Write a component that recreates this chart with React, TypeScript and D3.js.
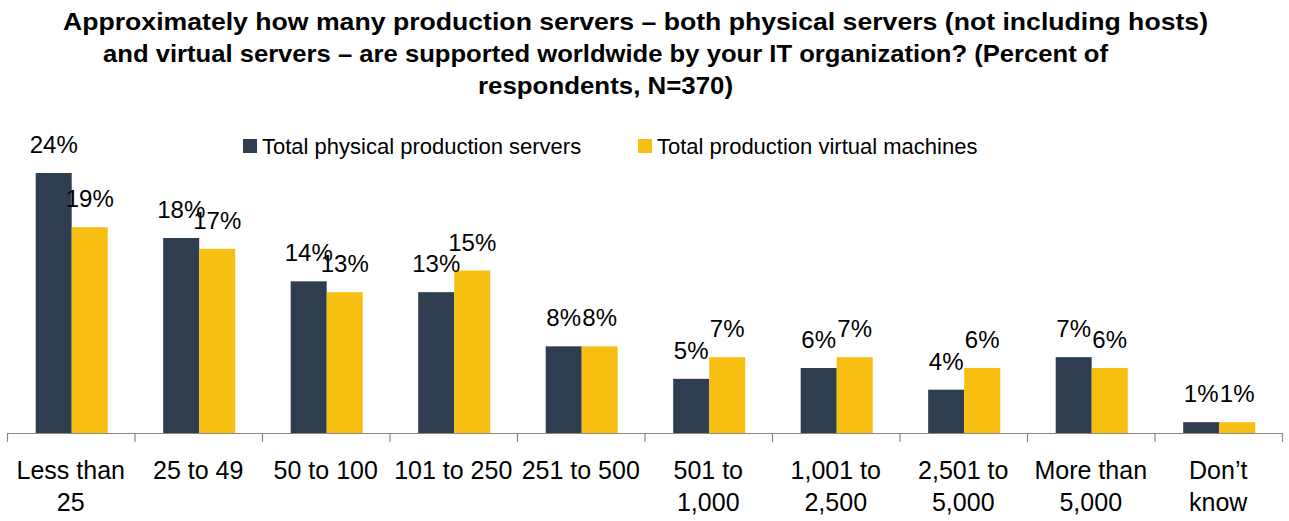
import React from "react";
import * as d3 from "d3";

const categories: string[][] = [
  ["Less than", "25"],
  ["25 to 49"],
  ["50 to 100"],
  ["101 to 250"],
  ["251 to 500"],
  ["501 to", "1,000"],
  ["1,001 to", "2,500"],
  ["2,501 to", "5,000"],
  ["More than", "5,000"],
  ["Don\u2019t", "know"],
];
const physical = [24, 18, 14, 13, 8, 5, 6, 4, 7, 1];
const virtualVMs = [19, 17, 13, 15, 8, 7, 7, 6, 6, 1];
const seriesNames = ["Total physical production servers", "Total production virtual machines"];
const colors = ["#2E3E50", "#F8BF13"];
const titleLines = [
  "Approximately how many production servers \u2013 both physical servers (not including hosts)",
  "and virtual servers \u2013 are supported worldwide by your IT organization? (Percent of",
  "respondents, N=370)",
];

const W = 1289;
const H = 521;
const FONT = "'Liberation Sans', Arial, sans-serif";

export default function App() {
  const keys = categories.map((c) => c.join(" "));
  const x0 = d3.scaleBand<string>().domain(keys).range([7, 1282]).paddingInner(0).paddingOuter(0);
  const bw = x0.bandwidth();
  const x1 = d3.scaleBand<number>().domain([0, 1]).range([bw * 0.225, bw * 0.79]);
  const y = d3.scaleLinear().domain([0, 24]).range([433, 173]);
  const series = [physical, virtualVMs];
  const titleSpans = [
    [63, 1208],
    [103, 1108],
    [478, 733],
  ];

  return (
    <svg width={W} height={H} style={{ position: "absolute", left: 0, top: 0, background: "#fff" }} fontFamily={FONT}>
      {titleLines.map((t, i) => (
        <text
          key={i}
          x={titleSpans[i][0]}
          y={30 + i * 32}
          textLength={titleSpans[i][1] - titleSpans[i][0]}
          lengthAdjust="spacingAndGlyphs"
          fontWeight="bold"
          fontSize={24}
          fill="#000"
        >
          {t}
        </text>
      ))}
      {/* legend */}
      {seriesNames.map((n, i) => {
        const lx = i === 0 ? 243 : 638;
        return (
          <g key={n}>
            <rect x={lx} y={139} width={14} height={14} fill={colors[i]} />
            <text x={lx + 19} y={154} fontSize={22} fill="#000">
              {n}
            </text>
          </g>
        );
      })}
      {/* bars */}
      {keys.map((k, ci) => (
        <g key={k} transform={`translate(${x0(k)},0)`}>
          {series.map((s, si) => (
            <rect key={si} x={x1(si)} y={y(s[ci])} width={x1.bandwidth()} height={y(0) - y(s[ci])} fill={colors[si]} />
          ))}
          {series.map((s, si) => (
            <text
              key={"l" + si}
              x={(x1(si) as number) + x1.bandwidth() / 2}
              y={y(s[ci]) - 20}
              textAnchor="middle"
              fontSize={24}
              fill="#000"
            >
              {s[ci]}%
            </text>
          ))}
        </g>
      ))}
      {/* axis */}
      <line x1={7} x2={1282} y1={433.5} y2={433.5} stroke="#888" strokeWidth={1.2} />
      {[...keys.map((k) => x0(k) as number), 1282].map((tx, i) => (
        <line key={i} x1={tx + 0.5} x2={tx + 0.5} y1={433} y2={442} stroke="#888" strokeWidth={1.2} />
      ))}
      {categories.map((lines, ci) => (
        <text key={ci} textAnchor="middle" fontSize={25} fill="#000">
          {lines.map((ln, li) => (
            <tspan key={li} x={(x0(keys[ci]) as number) + bw / 2} y={479 + li * 32}>
              {ln}
            </tspan>
          ))}
        </text>
      ))}
    </svg>
  );
}
